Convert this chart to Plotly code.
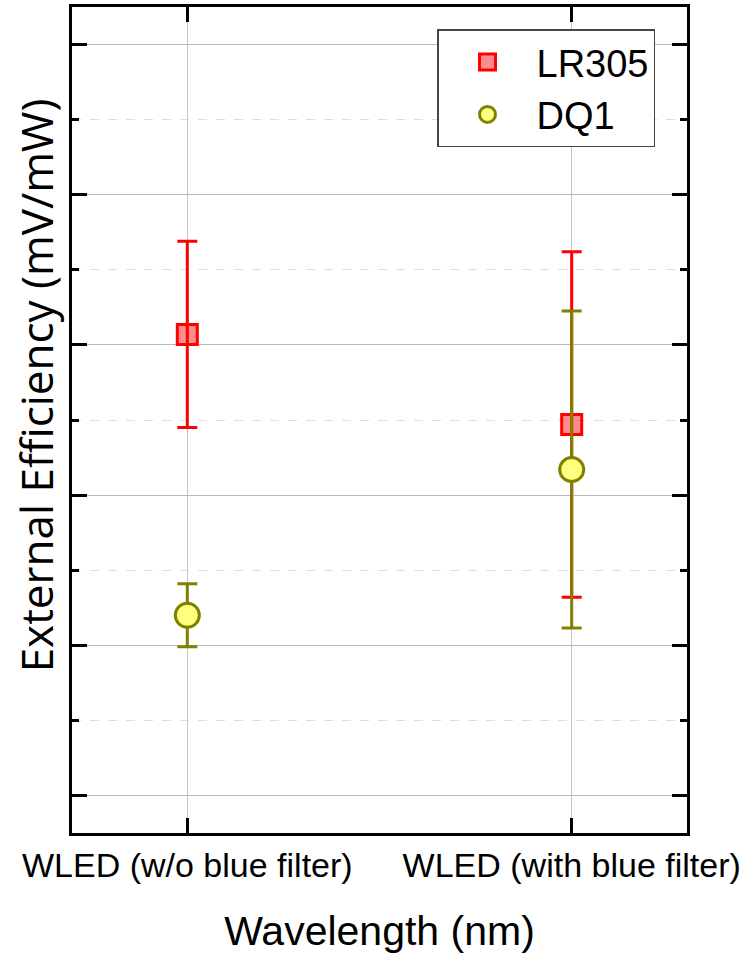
import plotly.graph_objects as go

# categories on the x axis
categories = ["WLED (w/o blue filter)", "WLED (with blue filter)"]

# external efficiency (arbitrary units) and errors
lr305_values = [3.07, 2.47]
lr305_errors = [0.62, 1.15]
dq1_values = [1.20, 2.17]
dq1_errors = [0.21, 1.055]

x_pos = [0, 1]

fig = go.Figure()

fig.add_trace(
    go.Scatter(
        x=x_pos,
        y=lr305_values,
        mode="markers",
        name="LR305",
        marker=dict(
            symbol="square",
            size=20,
            color="rgba(255,0,0,0.45)",
            line=dict(color="#ff0000", width=3),
        ),
        error_y=dict(
            type="data",
            array=lr305_errors,
            color="#ff0000",
            thickness=3,
            width=10,
        ),
    )
)

fig.add_trace(
    go.Scatter(
        x=x_pos,
        y=dq1_values,
        mode="markers",
        name="DQ1",
        marker=dict(
            symbol="circle",
            size=24,
            color="#ffff80",
            line=dict(color="#808000", width=3),
        ),
        error_y=dict(
            type="data",
            array=dq1_errors,
            color="#808000",
            thickness=3,
            width=10,
        ),
    )
)

fig.update_layout(
    width=749,
    height=954,
    autosize=False,
    margin=dict(l=72, r=62, t=7, b=121),
    plot_bgcolor="white",
    paper_bgcolor="white",
    font=dict(family="Liberation Sans, Arial", color="black"),
    showlegend=True,
    legend=dict(
        x=0.5935,
        y=0.973,
        xanchor="left",
        yanchor="top",
        bgcolor="white",
        bordercolor="#444444",
        borderwidth=1.5,
        font=dict(size=38, family="Liberation Sans, Arial"),
        itemwidth=88,
        tracegroupgap=0,
    ),
)

# y title placed as an annotation: it sits above the plot's middle in the reference
fig.add_annotation(
    text="External Efficiency (mV/mW)",
    xref="paper",
    yref="paper",
    x=-0.0585,
    y=0.542,
    xanchor="center",
    yanchor="middle",
    textangle=-90,
    showarrow=False,
    font=dict(size=44, family="Open Sans", color="black"),
)

fig.update_xaxes(
    range=[-0.3, 1.3],
    tickmode="array",
    tickvals=x_pos,
    ticktext=categories,
    tickfont=dict(size=34),
    ticks="inside",
    ticklen=15,
    tickwidth=3,
    tickcolor="black",
    showline=True,
    linecolor="black",
    linewidth=3,
    mirror="ticks",
    showgrid=True,
    gridcolor="#c4c4c4",
    gridwidth=1,
    zeroline=False,
    automargin=False,
    title=dict(text="Wavelength (nm)", font=dict(size=41), standoff=36),
)

fig.update_yaxes(
    range=[-0.25, 5.25],
    tickmode="linear",
    tick0=0,
    dtick=1,
    showticklabels=False,
    ticks="inside",
    ticklen=15,
    tickwidth=3,
    tickcolor="black",
    showline=True,
    linecolor="black",
    linewidth=3,
    mirror="ticks",
    showgrid=True,
    gridcolor="#b8b8b8",
    gridwidth=1,
    zeroline=False,
    automargin=False,
    minor=dict(
        tick0=0.5,
        dtick=1,
        ticks="inside",
        ticklen=7,
        tickwidth=3,
        tickcolor="black",
        showgrid=True,
        gridcolor="#dddddd",
        gridwidth=1,
        griddash="dash",
    ),
)

# drop the page's default body margin so the figure fills the window exactly
fig.write_html(
    "out.html",
    config={"displayModeBar": False},
    post_script="document.body.style.margin = '0';",
)
